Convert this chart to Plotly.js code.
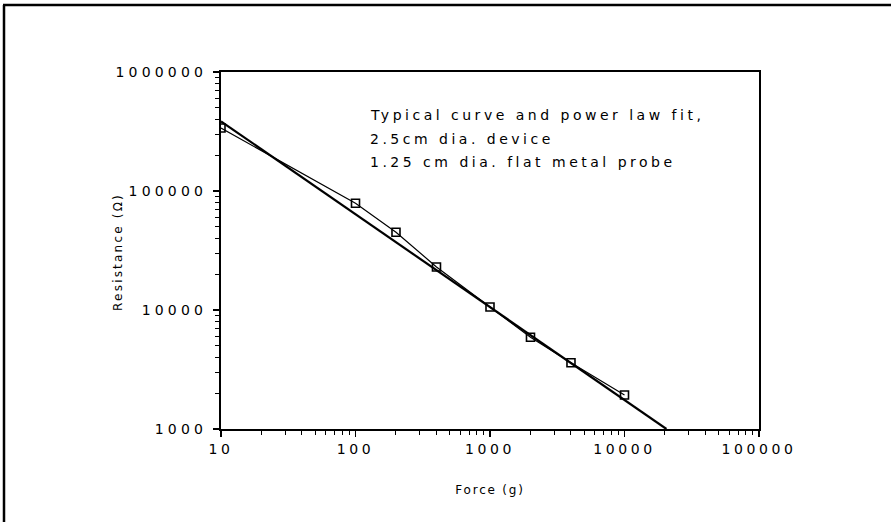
<!DOCTYPE html>
<html>
<head>
<meta charset="utf-8">
<script src="https://cdn.plot.ly/plotly-3.0.1.min.js"></script>
<style>
  html, body { margin: 0; padding: 0; background: #fff; }
  #chart { width: 891px; height: 522px; }
  .xtick text { letter-spacing: 3.6px; }
  .ytick text { letter-spacing: 4.2px; }
  .annotation-text { letter-spacing: 3.5px; }
  .g-xtitle text { letter-spacing: 1.8px; }
</style>
</head>
<body>
<div id="chart"></div>
<script>
// Measured data (force in g, resistance in ohms)
const forceG = [10, 100, 200, 400, 1000, 2000, 4000, 10000];
const resistanceOhm = [338000, 79000, 45000, 23000, 10600, 5900, 3600, 1930];

// Power-law fit endpoints
const fitForce = [10, 20500];
const fitResistance = [385000, 1000];

// Axis tick labels
const xTickVals = [10, 100, 1000, 10000, 100000];
const xTickText = ["10", "100", "1000", "10000", "100000"];
const yTickVals = [1000, 10000, 100000, 1000000];
const yTickText = ["1000", "10000", "100000", "1000000"];

const noteLines = [
  "Typical curve and power law fit,",
  "2.5cm dia. device",
  "1.25 cm dia. flat metal probe"
];
const yTitleText = "Resistance (Ω)";

function minorTicks(majors) {
  const out = [];
  for (let i = 0; i < majors.length - 1; i++) {
    for (let k = 2; k <= 9; k++) out.push(majors[i] * k);
  }
  return out;
}

const FONT = "DejaVu Sans, Verdana, sans-serif";

const traces = [
  {
    x: fitForce, y: fitResistance, mode: "lines", name: "Power law fit",
    line: { color: "#000", width: 2.2 }
  },
  {
    x: forceG, y: resistanceOhm, mode: "lines+markers", name: "Typical curve",
    line: { color: "#000", width: 1.2 },
    marker: { symbol: "square-open", size: 8, color: "#000", line: { width: 1.6, color: "#000" } }
  }
];

const W = 891, H = 522, L = 221, R = 759, T = 72, B = 429;
const px = (x) => (x - L) / (R - L);
const py = (y) => (B - y) / (B - T);

const axisCommon = {
  type: "log",
  showgrid: false, zeroline: false,
  showline: true, linecolor: "#000", linewidth: 2, mirror: true,
  ticks: "outside", ticklen: 6, tickwidth: 1.5, tickcolor: "#000",
  tickmode: "array",
  tickfont: { family: FONT, size: 14, color: "#000" }
};

const noteFont = { family: FONT, size: 14, color: "#000" };

const layout = {
  width: W, height: H,
  margin: { l: L, r: W - R, t: T, b: H - B, pad: 0 },
  paper_bgcolor: "#fff", plot_bgcolor: "#fff",
  showlegend: false,
  xaxis: Object.assign({}, axisCommon, {
    range: [1, 5],
    tickvals: xTickVals, ticktext: xTickText,
    minor: { tickvals: minorTicks(xTickVals), ticks: "outside", ticklen: 4, tickwidth: 1, tickcolor: "#000", showgrid: false },
    title: { text: "Force (g)", font: { family: FONT, size: 12, color: "#000" }, standoff: 30 }
  }),
  yaxis: Object.assign({}, axisCommon, {
    range: [3, 6],
    tickvals: yTickVals, ticktext: yTickText,
    ticklabelstandoff: 3,
    minor: { tickvals: minorTicks(yTickVals), ticks: "outside", ticklen: 4, tickwidth: 1, tickcolor: "#000", showgrid: false }
  }),
  annotations: [
    { text: noteLines[0], xref: "paper", yref: "paper", x: px(368), y: py(115), xanchor: "left", yanchor: "middle", showarrow: false, font: noteFont },
    { text: noteLines[1], xref: "paper", yref: "paper", x: px(368), y: py(139), xanchor: "left", yanchor: "middle", showarrow: false, font: noteFont },
    { text: noteLines[2], xref: "paper", yref: "paper", x: px(368), y: py(162), xanchor: "left", yanchor: "middle", showarrow: false, font: noteFont },
    { text: yTitleText, xref: "paper", yref: "paper", x: px(118), y: py(252), xanchor: "center", yanchor: "middle", textangle: -90, showarrow: false, font: { family: FONT, size: 12, color: "#000" } }
  ],
  shapes: [
    { type: "line", xref: "paper", yref: "paper", x0: px(4), x1: px(4), y0: py(5), y1: py(530), line: { color: "#000", width: 2.5 } },
    { type: "line", xref: "paper", yref: "paper", x0: px(3), x1: px(900), y0: py(5), y1: py(5), line: { color: "#000", width: 2.5 } }
  ]
};

Plotly.newPlot("chart", traces, layout, { displayModeBar: false, staticPlot: true }).then(() => {
  document.querySelectorAll(".annotation-text").forEach((t) => {
    if (t.textContent === yTitleText) t.style.letterSpacing = "2.2px";
  });
});
</script>
</body>
</html>
